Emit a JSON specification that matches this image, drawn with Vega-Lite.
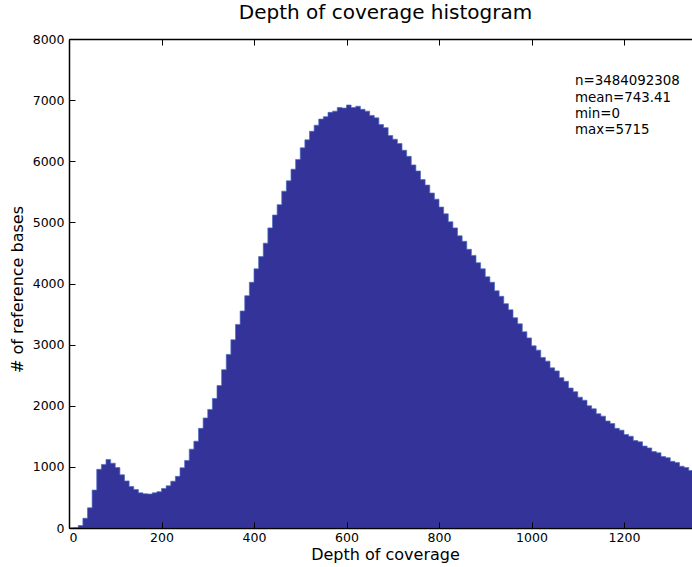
{
  "$schema": "https://vega.github.io/schema/vega-lite/v6.json",
  "width": 623,
  "height": 489,
  "autosize": {"type": "none"},
  "padding": {"left": 69, "top": 39, "right": 0, "bottom": 39},
  "background": "white",
  "config": {"view": {"stroke": null}, "font": "DejaVu Sans"},
  "title": {"text": "Depth of coverage histogram", "fontSize": 20, "font": "DejaVu Sans", "fontWeight": "normal", "color": "black", "offset": 10, "anchor": "middle", "dx": 5},
  "data": {"values": [
    {"depth": 0, "bases": 0}, {"depth": 10, "bases": 5}, {"depth": 20, "bases": 40}, {"depth": 30, "bases": 160}, {"depth": 40, "bases": 330},
    {"depth": 50, "bases": 620}, {"depth": 60, "bases": 960}, {"depth": 70, "bases": 1040}, {"depth": 80, "bases": 1120}, {"depth": 90, "bases": 1060},
    {"depth": 100, "bases": 990}, {"depth": 110, "bases": 870}, {"depth": 120, "bases": 770}, {"depth": 130, "bases": 680}, {"depth": 140, "bases": 630},
    {"depth": 150, "bases": 575}, {"depth": 160, "bases": 560}, {"depth": 170, "bases": 555}, {"depth": 180, "bases": 575}, {"depth": 190, "bases": 595},
    {"depth": 200, "bases": 645}, {"depth": 210, "bases": 690}, {"depth": 220, "bases": 765}, {"depth": 230, "bases": 845}, {"depth": 240, "bases": 985},
    {"depth": 250, "bases": 1105}, {"depth": 260, "bases": 1290}, {"depth": 270, "bases": 1420}, {"depth": 280, "bases": 1630}, {"depth": 290, "bases": 1800},
    {"depth": 300, "bases": 1940}, {"depth": 310, "bases": 2120}, {"depth": 320, "bases": 2330}, {"depth": 330, "bases": 2590}, {"depth": 340, "bases": 2840},
    {"depth": 350, "bases": 3080}, {"depth": 360, "bases": 3330}, {"depth": 370, "bases": 3550}, {"depth": 380, "bases": 3800}, {"depth": 390, "bases": 4020},
    {"depth": 400, "bases": 4240}, {"depth": 410, "bases": 4440}, {"depth": 420, "bases": 4660}, {"depth": 430, "bases": 4910}, {"depth": 440, "bases": 5120},
    {"depth": 450, "bases": 5290}, {"depth": 460, "bases": 5510}, {"depth": 470, "bases": 5680}, {"depth": 480, "bases": 5870}, {"depth": 490, "bases": 6030},
    {"depth": 500, "bases": 6220}, {"depth": 510, "bases": 6350}, {"depth": 520, "bases": 6490}, {"depth": 530, "bases": 6590}, {"depth": 540, "bases": 6690},
    {"depth": 550, "bases": 6730}, {"depth": 560, "bases": 6800}, {"depth": 570, "bases": 6820}, {"depth": 580, "bases": 6880}, {"depth": 590, "bases": 6870},
    {"depth": 600, "bases": 6920}, {"depth": 610, "bases": 6880}, {"depth": 620, "bases": 6900}, {"depth": 630, "bases": 6850}, {"depth": 640, "bases": 6820},
    {"depth": 650, "bases": 6750}, {"depth": 660, "bases": 6710}, {"depth": 670, "bases": 6600}, {"depth": 680, "bases": 6550}, {"depth": 690, "bases": 6420},
    {"depth": 700, "bases": 6360}, {"depth": 710, "bases": 6290}, {"depth": 720, "bases": 6180}, {"depth": 730, "bases": 6080}, {"depth": 740, "bases": 5940},
    {"depth": 750, "bases": 5840}, {"depth": 760, "bases": 5700}, {"depth": 770, "bases": 5610}, {"depth": 780, "bases": 5480}, {"depth": 790, "bases": 5380},
    {"depth": 800, "bases": 5250}, {"depth": 810, "bases": 5140}, {"depth": 820, "bases": 5010}, {"depth": 830, "bases": 4910}, {"depth": 840, "bases": 4780},
    {"depth": 850, "bases": 4690}, {"depth": 860, "bases": 4560}, {"depth": 870, "bases": 4460}, {"depth": 880, "bases": 4340}, {"depth": 890, "bases": 4240},
    {"depth": 900, "bases": 4110}, {"depth": 910, "bases": 4020}, {"depth": 920, "bases": 3880}, {"depth": 930, "bases": 3790}, {"depth": 940, "bases": 3670},
    {"depth": 950, "bases": 3570}, {"depth": 960, "bases": 3440}, {"depth": 970, "bases": 3340}, {"depth": 980, "bases": 3210}, {"depth": 990, "bases": 3110},
    {"depth": 1000, "bases": 2980}, {"depth": 1010, "bases": 2910}, {"depth": 1020, "bases": 2790}, {"depth": 1030, "bases": 2730}, {"depth": 1040, "bases": 2620},
    {"depth": 1050, "bases": 2570}, {"depth": 1060, "bases": 2460}, {"depth": 1070, "bases": 2400}, {"depth": 1080, "bases": 2290}, {"depth": 1090, "bases": 2230},
    {"depth": 1100, "bases": 2140}, {"depth": 1110, "bases": 2090}, {"depth": 1120, "bases": 2000}, {"depth": 1130, "bases": 1950}, {"depth": 1140, "bases": 1870},
    {"depth": 1150, "bases": 1830}, {"depth": 1160, "bases": 1750}, {"depth": 1170, "bases": 1710}, {"depth": 1180, "bases": 1630}, {"depth": 1190, "bases": 1600},
    {"depth": 1200, "bases": 1530}, {"depth": 1210, "bases": 1500}, {"depth": 1220, "bases": 1430}, {"depth": 1230, "bases": 1410}, {"depth": 1240, "bases": 1340},
    {"depth": 1250, "bases": 1310}, {"depth": 1260, "bases": 1250}, {"depth": 1270, "bases": 1230}, {"depth": 1280, "bases": 1170}, {"depth": 1290, "bases": 1150},
    {"depth": 1300, "bases": 1090}, {"depth": 1310, "bases": 1070}, {"depth": 1320, "bases": 1010}, {"depth": 1330, "bases": 990}, {"depth": 1340, "bases": 940},
    {"depth": 1350, "bases": 930}
  ]},
  "layer": [
    {
      "mark": {"type": "area", "interpolate": "step-after", "color": "#333399", "clip": true, "stroke": "#4a6fc0", "strokeWidth": 0.7},
      "encoding": {
        "x": {"field": "depth", "type": "quantitative",
          "scale": {"domain": [0, 1347], "nice": false, "zero": false},
          "axis": {"orient": "bottom", "title": "Depth of coverage", "values": [0, 200, 400, 600, 800, 1000, 1200], "format": "d", "grid": false, "zindex": 1,
            "ticks": false, "domainColor": "black", "domainWidth": 1.5,
            "labelFontSize": 12.5, "labelColor": "black", "labelPadding": 3, "labelFont": "DejaVu Sans",
            "titleFontSize": 16, "titleFontWeight": "normal", "titleColor": "black", "titleFont": "DejaVu Sans", "titlePadding": 3, "titleX": 316}},
        "y": {"field": "bases", "type": "quantitative",
          "scale": {"domain": [0, 8000], "nice": false},
          "axis": {"orient": "left", "title": "# of reference bases", "values": [0, 1000, 2000, 3000, 4000, 5000, 6000, 7000, 8000], "format": "d", "grid": false, "zindex": 1,
            "ticks": false, "domainColor": "black", "domainWidth": 1.5,
            "labelFontSize": 12.5, "labelColor": "black", "labelPadding": 5, "labelFont": "DejaVu Sans",
            "titleFontSize": 16, "titleFontWeight": "normal", "titleColor": "black", "titleFont": "DejaVu Sans", "titlePadding": 7, "titleY": 250}}
      }
    },
    {
      "mark": {"type": "rule", "opacity": 0},
      "encoding": {
        "x": {"field": "depth", "type": "quantitative",
          "axis": {"orient": "bottom", "offset": -6, "title": null, "labels": false, "domain": false, "values": [0, 200, 400, 600, 800, 1000, 1200], "grid": false, "zindex": 1,
            "tickColor": "black", "tickSize": 6, "tickWidth": 1}},
        "y": {"field": "bases", "type": "quantitative",
          "axis": {"orient": "left", "offset": -6, "title": null, "labels": false, "domain": false, "values": [0, 1000, 2000, 3000, 4000, 5000, 6000, 7000, 8000], "grid": false, "zindex": 1,
            "tickColor": "black", "tickSize": 6, "tickWidth": 1}}
      }
    },
    {
      "mark": {"type": "rule", "opacity": 0},
      "encoding": {
        "x": {"field": "depth", "type": "quantitative",
          "axis": {"orient": "top", "title": null, "labels": false, "ticks": false, "grid": false, "zindex": 1,
            "domainColor": "black", "domainWidth": 1.5}}
      }
    },
    {
      "mark": {"type": "rule", "opacity": 0},
      "encoding": {
        "x": {"field": "depth", "type": "quantitative",
          "axis": {"orient": "top", "offset": -6, "title": null, "labels": false, "domain": false, "values": [0, 200, 400, 600, 800, 1000, 1200], "grid": false, "zindex": 1,
            "tickColor": "black", "tickSize": 6, "tickWidth": 1}}
      }
    },
    {
      "data": {"values": [{}]},
      "mark": {"type": "text", "align": "left", "baseline": "top", "fontSize": 13.4, "font": "DejaVu Sans", "color": "black", "lineHeight": 16.3},
      "encoding": {
        "x": {"datum": 1094, "axis": null},
        "y": {"datum": 7420, "axis": null},
        "text": {"value": ["n=3484092308", "mean=743.41", "min=0", "max=5715"]}
      }
    }
  ],
  "resolve": {"axis": {"x": "independent", "y": "independent"}}
}
